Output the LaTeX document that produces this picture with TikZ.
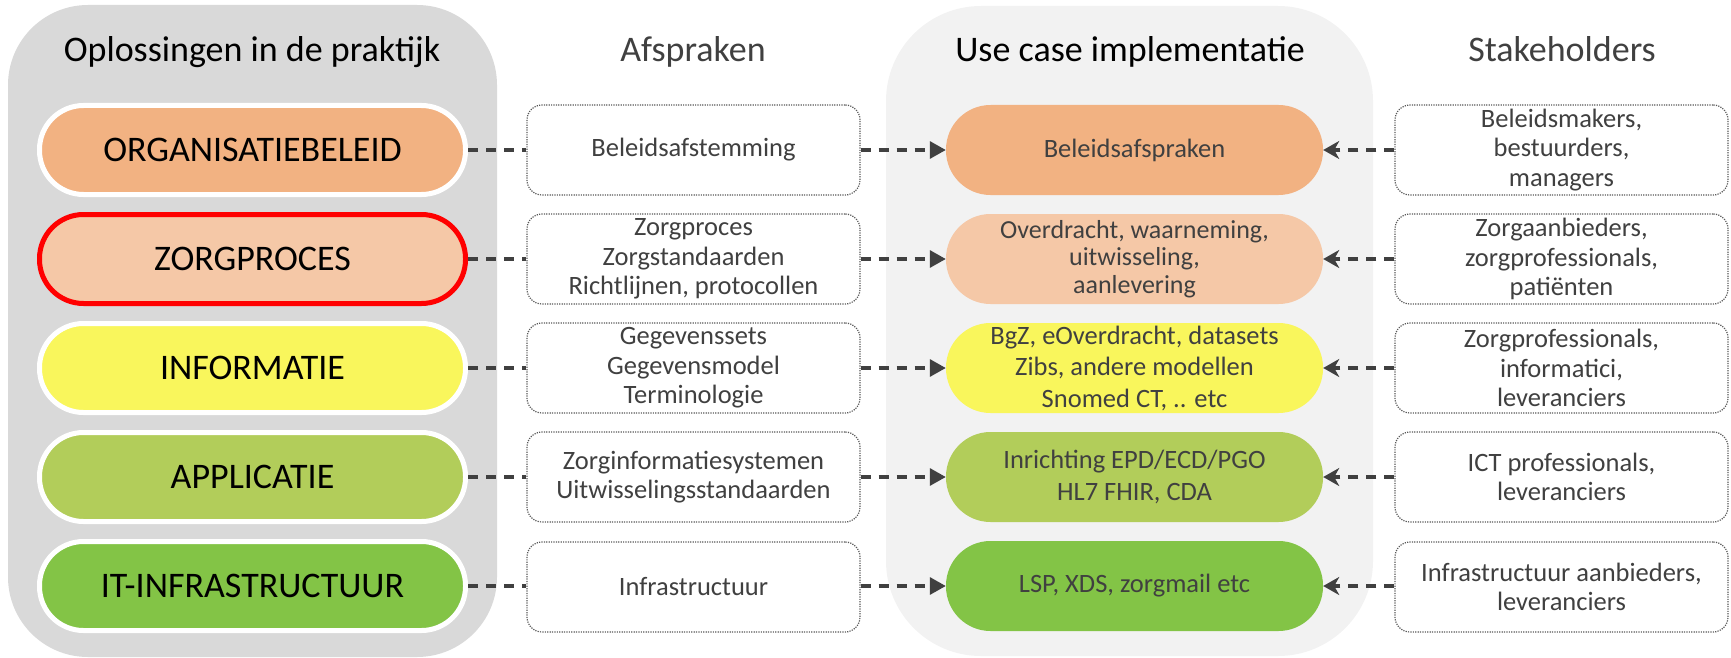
\documentclass[tikz,border=0pt]{standalone}
\usepackage{fontspec}
\setmainfont{Carlito}
\usetikzlibrary{arrows.meta}
\definecolor{panelL}{HTML}{D9D9D9}
\definecolor{panelU}{HTML}{F2F2F2}
\definecolor{dgray}{HTML}{404040}
\definecolor{boxline}{HTML}{595959}
\definecolor{cOrg}{HTML}{F2B282}
\definecolor{cZorg}{HTML}{F5C8A7}
\definecolor{cInfo}{HTML}{F9F65C}
\definecolor{cAppl}{HTML}{B2CD5A}
\definecolor{cInfra}{HTML}{83C446}
\definecolor{cRed}{HTML}{FF0000}
\begin{document}
\begin{tikzpicture}[x=1pt,y=-1pt,
  heading/.style={font=\fontsize{36}{40}\selectfont, inner sep=0pt, anchor=base},
  leftpill/.style={draw=white, line width=5pt, rounded corners=44pt, minimum width=426pt, minimum height=89pt, inner sep=0pt, font=\fontsize{36}{40}\selectfont, text=black},
  agreebox/.style={draw=boxline, line width=1.2pt, dash pattern=on 1.2pt off 1.2pt, rounded corners=15pt, fill=white, minimum width=333pt, minimum height=90pt, inner sep=0pt, align=center, text=dgray, font=\fontsize{26.5}{29.5}\selectfont},
  ucpill/.style={rounded corners=44.5pt, minimum width=377pt, minimum height=90pt, inner sep=0pt, align=center, text=dgray, font=\fontsize{26.5}{31.5}\selectfont},
  conn/.style={draw=dgray, line width=3.2pt, dash pattern=on 10pt off 8pt},
  toR/.style={conn, -{Triangle[length=16pt,width=17pt]}},
  toL/.style={conn, -{Stealth[length=16pt,width=18pt,inset=5pt]}}
]
\useasboundingbox (0,0) rectangle (1731,658);
% panels
\fill[panelL, rounded corners=80pt] (8,5) rectangle (497,657);
\fill[panelU, rounded corners=95pt] (886,6) rectangle (1373,656);
% headings
\node[heading, text=black] (h1) at (252,62) {Oplossingen in de praktijk};
\node[heading, text=dgray] (h2) at (693,62) {Afspraken};
\node[heading, text=black] (h3) at (1130,62) {Use case implementatie};
\node[heading, text=dgray] (h4) at (1562,62) {Stakeholders};
% left pills
\node[leftpill, fill=cOrg] (L1) at (252.5,150) {ORGANISATIEBELEID};
\node[leftpill, fill=cZorg, draw=cRed] (L2) at (252.5,259) {ZORGPROCES};
\node[leftpill, fill=cInfo] (L3) at (252.5,368) {INFORMATIE};
\node[leftpill, fill=cAppl] (L4) at (252.5,477) {APPLICATIE};
\node[leftpill, fill=cInfra] (L5) at (252.5,586) {IT-INFRASTRUCTUUR};
% agreement boxes
\node[agreebox] (A1) at (693.5,150) {Beleidsafstemming};
\node[agreebox] (A2) at (693.5,259) {Zorgproces\\Zorgstandaarden\\Richtlijnen, protocollen};
\node[agreebox] (A3) at (693.5,368) {Gegevenssets\\Gegevensmodel\\Terminologie};
\node[agreebox] (A4) at (693.5,477) {Zorginformatiesystemen\\Uitwisselingsstandaarden};
\node[agreebox] (A5) at (693.5,587) {Infrastructuur};
% use case pills
\node[ucpill, fill=cOrg] (U1) at (1134.5,150) {Beleidsafspraken};
\node[ucpill, fill=cZorg, font=\fontsize{26}{27.5}\selectfont] (U2) at (1134.5,259) {Overdracht, waarneming,\\uitwisseling,\\aanlevering};
\node[ucpill, fill=cInfo] (U3) at (1134.5,368) {BgZ, eOverdracht, datasets\\Zibs, andere modellen\\Snomed CT, .. etc};
\node[ucpill, fill=cAppl] (U4) at (1134.5,477) {Inrichting EPD/ECD/PGO\\HL7 FHIR, CDA};
\node[ucpill, fill=cInfra] (U5) at (1134.5,586) {LSP, XDS, zorgmail etc};
% stakeholder boxes
\node[agreebox] (S1) at (1561.5,150) {Beleidsmakers,\\bestuurders,\\managers};
\node[agreebox] (S2) at (1561.5,259) {Zorgaanbieders,\\zorgprofessionals,\\patiënten};
\node[agreebox] (S3) at (1561.5,368) {Zorgprofessionals,\\informatici,\\leveranciers};
\node[agreebox] (S4) at (1561.5,477) {ICT professionals,\\leveranciers};
\node[agreebox] (S5) at (1561.5,587) {Infrastructuur aanbieders,\\leveranciers};
% connectors
\foreach \i in {1,...,5}{
  \draw[conn] (L\i.east) -- (A\i.west |- L\i.east);
  \draw[toR] (A\i.east |- U\i.west) -- (U\i.west);
  \draw[toL] (S\i.west |- U\i.east) -- (U\i.east);
}
\end{tikzpicture}
\end{document}
